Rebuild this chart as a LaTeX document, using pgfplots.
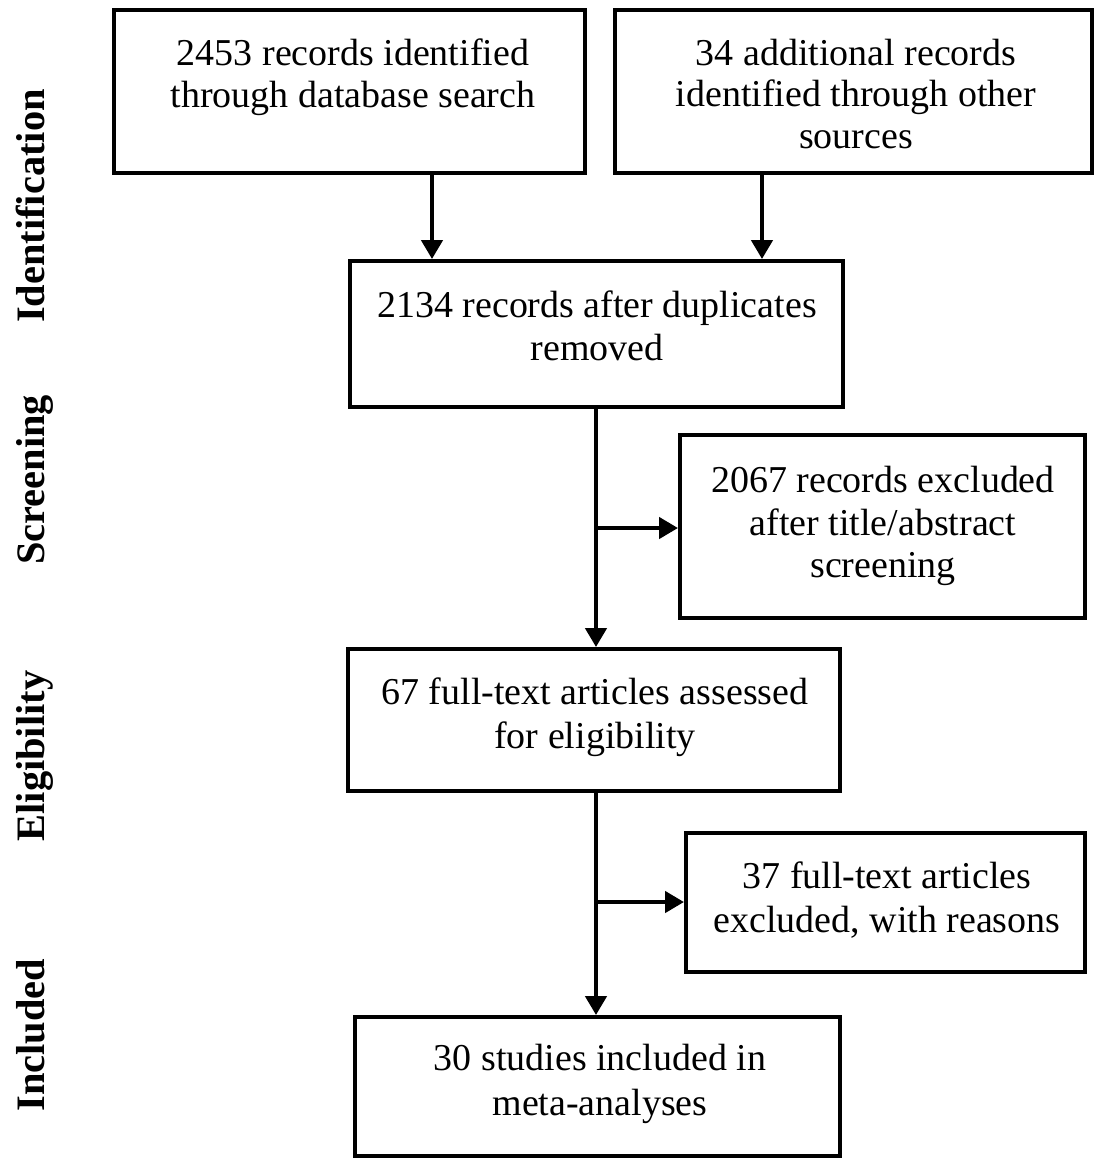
\documentclass[border=0pt]{standalone}
\usepackage{pgfplots}
\pgfplotsset{compat=1.18}
\usepackage{fontspec}
\setmainfont{Liberation Serif}
\usetikzlibrary{arrows.meta}
\begin{document}
\begin{tikzpicture}
\begin{axis}[
  scale only axis, width=109.4mm, height=115.9mm,
  xmin=0, xmax=1094, ymin=0, ymax=1159, y dir=reverse,
  axis lines=none, ticks=none, clip=false,
]
\path (axis cs:0,0) rectangle (axis cs:1094,1159);
% boxes
\tikzset{bx/.style={line width=1.3pt}}
\draw[bx] (axis cs:114,10) rectangle (axis cs:585,173);
\draw[bx] (axis cs:615,10) rectangle (axis cs:1092,173);
\draw[bx] (axis cs:350,261) rectangle (axis cs:843,407);
\draw[bx] (axis cs:680,435) rectangle (axis cs:1085,618);
\draw[bx] (axis cs:348,649) rectangle (axis cs:840,791);
\draw[bx] (axis cs:686,833) rectangle (axis cs:1085,972);
\draw[bx] (axis cs:355,1017) rectangle (axis cs:840,1156);
% arrows
\tikzset{arr/.style={line width=1.2pt,-{Triangle[length=5.4pt,width=6pt]}}}
\draw[arr] (axis cs:432,173) -- (axis cs:432,259);
\draw[arr] (axis cs:762,173) -- (axis cs:762,259);
\draw[arr] (axis cs:596,407) -- (axis cs:596,647);
\draw[arr] (axis cs:596,528) -- (axis cs:678,528);
\draw[arr] (axis cs:596,791) -- (axis cs:596,1015);
\draw[arr] (axis cs:596,902) -- (axis cs:684,902);
% texts
\tikzset{t/.style={anchor=base, inner sep=0pt, font=\fontsize{10.8}{12.2}\selectfont}}
\node[t] at (axis cs:353,65) {2453 records identified};
\node[t] at (axis cs:353,107) {through database search};
\node[t] at (axis cs:856,65) {34 additional records};
\node[t] at (axis cs:856,106) {identified through other};
\node[t] at (axis cs:856,148) {sources};
\node[t] at (axis cs:597,317) {2134 records after duplicates};
\node[t] at (axis cs:597,360) {removed};
\node[t] at (axis cs:883,492) {2067 records excluded};
\node[t] at (axis cs:883,535) {after title/abstract};
\node[t] at (axis cs:883,577) {screening};
\node[t] at (axis cs:595,704) {67 full-text articles assessed};
\node[t] at (axis cs:595,748) {for eligibility};
\node[t] at (axis cs:887,888) {37 full-text articles};
\node[t] at (axis cs:887,932) {excluded, with reasons};
\node[t] at (axis cs:600,1070) {30 studies included in};
\node[t] at (axis cs:600,1115) {meta-analyses};
% stage labels
\tikzset{s/.style={anchor=base, rotate=90, inner sep=0pt, font=\fontsize{11.5}{13}\selectfont\bfseries}}
\node[s] at (axis cs:45,206) {Identification};
\node[s] at (axis cs:45,480) {Screening};
\node[s] at (axis cs:45,756) {Eligibility};
\node[s] at (axis cs:45,1035) {Included};
\end{axis}
\end{tikzpicture}
\end{document}
